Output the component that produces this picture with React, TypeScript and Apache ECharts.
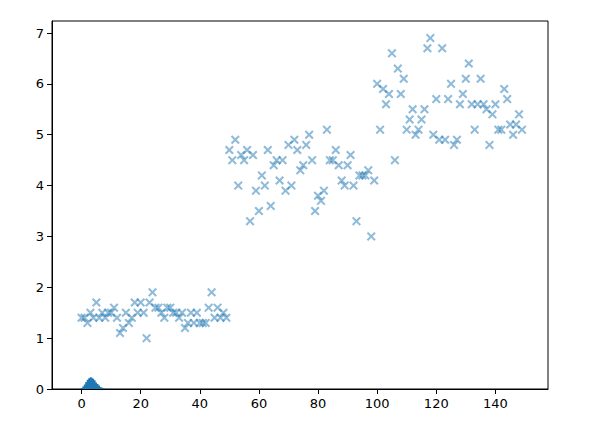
import React, { useEffect, useRef } from "react";
import * as echarts from "echarts";

const petalLength: number[] = [
  1.4, 1.4, 1.3, 1.5, 1.4, 1.7, 1.4, 1.5, 1.4, 1.5, 1.5, 1.6, 1.4, 1.1, 1.2, 1.5, 1.3, 1.4, 1.7, 1.5,
  1.7, 1.5, 1.0, 1.7, 1.9, 1.6, 1.6, 1.5, 1.4, 1.6, 1.6, 1.5, 1.5, 1.4, 1.5, 1.2, 1.3, 1.5, 1.3, 1.5,
  1.3, 1.3, 1.3, 1.6, 1.9, 1.4, 1.6, 1.4, 1.5, 1.4,
  4.7, 4.5, 4.9, 4.0, 4.6, 4.5, 4.7, 3.3, 4.6, 3.9, 3.5, 4.2, 4.0, 4.7, 3.6, 4.4, 4.5, 4.1, 4.5, 3.9,
  4.8, 4.0, 4.9, 4.7, 4.3, 4.4, 4.8, 5.0, 4.5, 3.5, 3.8, 3.7, 3.9, 5.1, 4.5, 4.5, 4.7, 4.4, 4.1, 4.0,
  4.4, 4.6, 4.0, 3.3, 4.2, 4.2, 4.2, 4.3, 3.0, 4.1,
  6.0, 5.1, 5.9, 5.6, 5.8, 6.6, 4.5, 6.3, 5.8, 6.1, 5.1, 5.3, 5.5, 5.0, 5.1, 5.3, 5.5, 6.7, 6.9, 5.0,
  5.7, 4.9, 6.7, 4.9, 5.7, 6.0, 4.8, 4.9, 5.6, 5.8, 6.1, 6.4, 5.6, 5.1, 5.6, 6.1, 5.6, 5.5, 4.8, 5.4,
  5.6, 5.1, 5.1, 5.9, 5.7, 5.2, 5.0, 5.2, 5.4, 5.1,
];

const densityX: number[] = [-0.5, 0, 0.5, 1, 1.5, 2, 2.5, 3, 3.5, 4, 4.5, 5, 5.5, 6, 6.5, 7, 7.5, 8, 8.5];
const densityY: number[] = [0, 0.02, 0.05, 0.09, 0.14, 0.18, 0.21, 0.23, 0.22, 0.2, 0.17, 0.13, 0.1, 0.07, 0.04, 0.025, 0.012, 0.005, 0];

const xTicks: number[] = [0, 20, 40, 60, 80, 100, 120, 140];
const yTicks: number[] = [0, 1, 2, 3, 4, 5, 6, 7];

const X_SYMBOL =
  "path://M0,1.6L1.6,0L5,3.4L8.4,0L10,1.6L6.6,5L10,8.4L8.4,10L5,6.6L1.6,10L0,8.4L3.4,5Z";

export default function App() {
  const ref = useRef<HTMLDivElement>(null);
  useEffect(() => {
    if (!ref.current) return;
    const chart = echarts.init(ref.current, undefined, { renderer: "svg" });
    const labelStyle = { color: "#000", fontFamily: "DejaVu Sans", fontSize: 13 };
    chart.setOption({
      animation: false,
      grid: {
        left: 52,
        right: 48,
        top: 21,
        bottom: 50,
        show: true,
        borderColor: "#000",
        borderWidth: 1,
        backgroundColor: "transparent",
      },
      xAxis: {
        type: "value",
        min: -10,
        max: 157.8,
        splitLine: { show: false },
        axisLine: { show: true, onZero: false, lineStyle: { color: "#000", width: 1 } },
        axisTick: { show: true, length: 5, customValues: xTicks, lineStyle: { color: "#000" } },
        axisLabel: { ...labelStyle, margin: 8, customValues: xTicks },
      },
      yAxis: {
        type: "value",
        min: 0,
        max: 7.236,
        splitLine: { show: false },
        axisLine: { show: true, onZero: false, lineStyle: { color: "#000", width: 1 } },
        axisTick: { show: true, length: 5, customValues: yTicks, lineStyle: { color: "#000" } },
        axisLabel: { ...labelStyle, margin: 8, customValues: yTicks },
      },
      series: [
        {
          type: "line",
          data: densityX.map((x, i) => [x, densityY[i]]),
          symbol: "none",
          step: "middle",
          lineStyle: { width: 0 },
          areaStyle: { color: "#1f77b4", opacity: 1 },
          z: 2,
        },
        {
          type: "scatter",
          data: petalLength.map((v, i) => [i, v]),
          symbol: X_SYMBOL,
          symbolSize: 9,
          itemStyle: { color: "#1f77b4", opacity: 0.5 },
          z: 3,
        },
      ],
    });
    return () => chart.dispose();
  }, []);
  return <div ref={ref} style={{ width: 596, height: 439, margin: -8 }} />;
}
